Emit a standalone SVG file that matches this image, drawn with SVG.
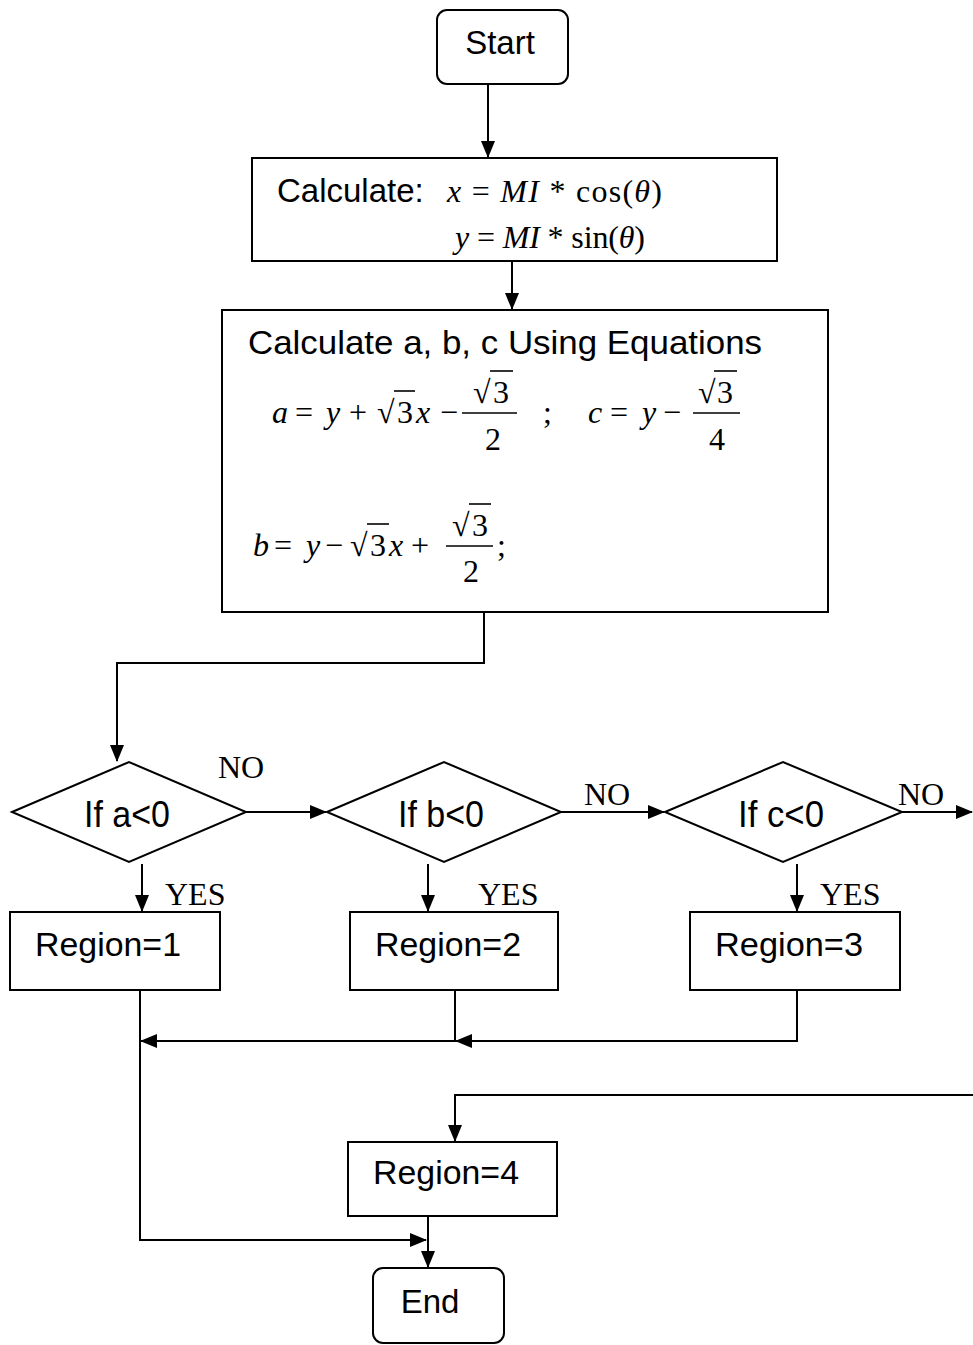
<svg xmlns="http://www.w3.org/2000/svg" width="973" height="1345" viewBox="0 0 973 1345">
<style>
.box{fill:#fff;stroke:#000;stroke-width:2}
.ln{fill:none;stroke:#000;stroke-width:2}
.bar{stroke:#000;stroke-width:1.6}
.t{font-family:"Liberation Sans",Arial,sans-serif;font-size:33px;fill:#000}
.d{font-family:"Liberation Sans",Arial,sans-serif;font-size:37px;fill:#000;text-anchor:middle}
.m{font-family:"Liberation Serif","Times New Roman",serif;font-size:32px;fill:#000}
.i{font-style:italic}
.c{text-anchor:middle}
</style>
<defs>
<marker id="ah" markerWidth="17" markerHeight="14" refX="16" refY="7" orient="auto" markerUnits="userSpaceOnUse"><path d="M0,0 L17,7 L0,14 z" fill="#000"/></marker>
</defs>
<rect width="973" height="1345" fill="#fff"/>

<g id="connectors">
<path class="ln" d="M488,84 V157" marker-end="url(#ah)"/>
<path class="ln" d="M512,261 V309" marker-end="url(#ah)"/>
<path class="ln" d="M484,612 V663 H117 V761" marker-end="url(#ah)"/>
<path class="ln" d="M246,812 H326" marker-end="url(#ah)"/>
<path class="ln" d="M561,812 H664" marker-end="url(#ah)"/>
<path class="ln" d="M902,812 H972" marker-end="url(#ah)"/>
<path class="ln" d="M142,864 V911" marker-end="url(#ah)"/>
<path class="ln" d="M428,864 V911" marker-end="url(#ah)"/>
<path class="ln" d="M797,864 V911" marker-end="url(#ah)"/>
<path class="ln" d="M140,990 V1240 H426" marker-end="url(#ah)"/>
<path class="ln" d="M455,990 V1041 H141" marker-end="url(#ah)"/>
<path class="ln" d="M797,990 V1041 H456" marker-end="url(#ah)"/>
<path class="ln" d="M973,1095 H455 V1141" marker-end="url(#ah)"/>
<path class="ln" d="M428,1216 V1267" marker-end="url(#ah)"/>
<text class="m" x="218" y="778">NO</text>
<text class="m" x="584" y="805">NO</text>
<text class="m" x="898" y="805">NO</text>
<text class="m" x="165" y="905">YES</text>
<text class="m" x="478" y="905">YES</text>
<text class="m" x="820" y="905">YES</text>
</g>

<g id="start">
<rect class="box" x="437" y="10" width="131" height="74" rx="10"/>
<text class="t c" x="500" y="54">Start</text>
</g>

<g id="calc1">
<rect class="box" x="252" y="158" width="525" height="103"/>
<text class="t" x="277" y="202">Calculate:</text>
<text class="m" x="447" y="202" textLength="215" lengthAdjust="spacing"><tspan class="i">x</tspan> = <tspan class="i">MI</tspan> * cos(<tspan class="i">θ</tspan>)</text>
<text class="m" x="455" y="248" textLength="190" lengthAdjust="spacing"><tspan class="i">y</tspan> = <tspan class="i">MI</tspan> * sin(<tspan class="i">θ</tspan>)</text>
</g>

<g id="calc2">
<rect class="box" x="222" y="310" width="606" height="302"/>
<text class="t" x="248" y="354" textLength="514" lengthAdjust="spacingAndGlyphs">Calculate a, b, c Using Equations</text>
<!-- a equation -->
<text class="m i" x="272" y="423">a</text>
<text class="m" x="295" y="423">=</text>
<text class="m i" x="326" y="423">y</text>
<text class="m" x="349" y="423">+</text>
<text class="m" x="377" y="423">√</text>
<line class="bar" x1="394" y1="391" x2="415" y2="391"/>
<text class="m" x="397" y="423">3</text>
<text class="m i" x="416" y="423">x</text>
<text class="m" x="440" y="423">−</text>
<line class="bar" x1="462" y1="413" x2="517" y2="413"/>
<text class="m" x="473" y="403">√</text>
<line class="bar" x1="490" y1="371" x2="513" y2="371"/>
<text class="m" x="493" y="403">3</text>
<text class="m" x="485" y="450">2</text>
<text class="m" x="543" y="423">;</text>
<!-- c equation -->
<text class="m i" x="588" y="423">c</text>
<text class="m" x="610" y="423">=</text>
<text class="m i" x="642" y="423">y</text>
<text class="m" x="663" y="423">−</text>
<line class="bar" x1="693" y1="413" x2="740" y2="413"/>
<text class="m" x="698" y="403">√</text>
<line class="bar" x1="714" y1="371" x2="737" y2="371"/>
<text class="m" x="717" y="403">3</text>
<text class="m" x="709" y="450">4</text>
<!-- b equation -->
<text class="m i" x="253" y="556">b</text>
<text class="m" x="274" y="556">=</text>
<text class="m i" x="306" y="556">y</text>
<text class="m" x="325" y="556">−</text>
<text class="m" x="350" y="556">√</text>
<line class="bar" x1="367" y1="524" x2="389" y2="524"/>
<text class="m" x="370" y="556">3</text>
<text class="m i" x="389" y="556">x</text>
<text class="m" x="411" y="556">+</text>
<line class="bar" x1="446" y1="546" x2="493" y2="546"/>
<text class="m" x="452" y="536">√</text>
<line class="bar" x1="469" y1="504" x2="491" y2="504"/>
<text class="m" x="472" y="536">3</text>
<text class="m" x="463" y="582">2</text>
<text class="m" x="497" y="556">;</text>
</g>

<g id="ifa">
<polygon class="box" points="12,812 129,762 246,812 129,862"/>
<text class="d" x="127" y="827" textLength="86" lengthAdjust="spacingAndGlyphs">If a&lt;0</text>
</g>
<g id="ifb">
<polygon class="box" points="327,812 444,762 561,812 444,862"/>
<text class="d" x="441" y="827" textLength="86" lengthAdjust="spacingAndGlyphs">If b&lt;0</text>
</g>
<g id="ifc">
<polygon class="box" points="665,812 783,762 902,812 783,862"/>
<text class="d" x="781" y="827" textLength="86" lengthAdjust="spacingAndGlyphs">If c&lt;0</text>
</g>

<g id="region1">
<rect class="box" x="10" y="912" width="210" height="78"/>
<text class="t" x="35" y="956" textLength="146" lengthAdjust="spacingAndGlyphs">Region=1</text>
</g>
<g id="region2">
<rect class="box" x="350" y="912" width="208" height="78"/>
<text class="t" x="375" y="956" textLength="146" lengthAdjust="spacingAndGlyphs">Region=2</text>
</g>
<g id="region3">
<rect class="box" x="690" y="912" width="210" height="78"/>
<text class="t" x="715" y="956" textLength="148" lengthAdjust="spacingAndGlyphs">Region=3</text>
</g>
<g id="region4">
<rect class="box" x="348" y="1142" width="209" height="74"/>
<text class="t" x="373" y="1184" textLength="146" lengthAdjust="spacingAndGlyphs">Region=4</text>
</g>
<g id="end">
<rect class="box" x="373" y="1268" width="131" height="75" rx="10"/>
<text class="t c" x="430" y="1313">End</text>
</g>
</svg>
